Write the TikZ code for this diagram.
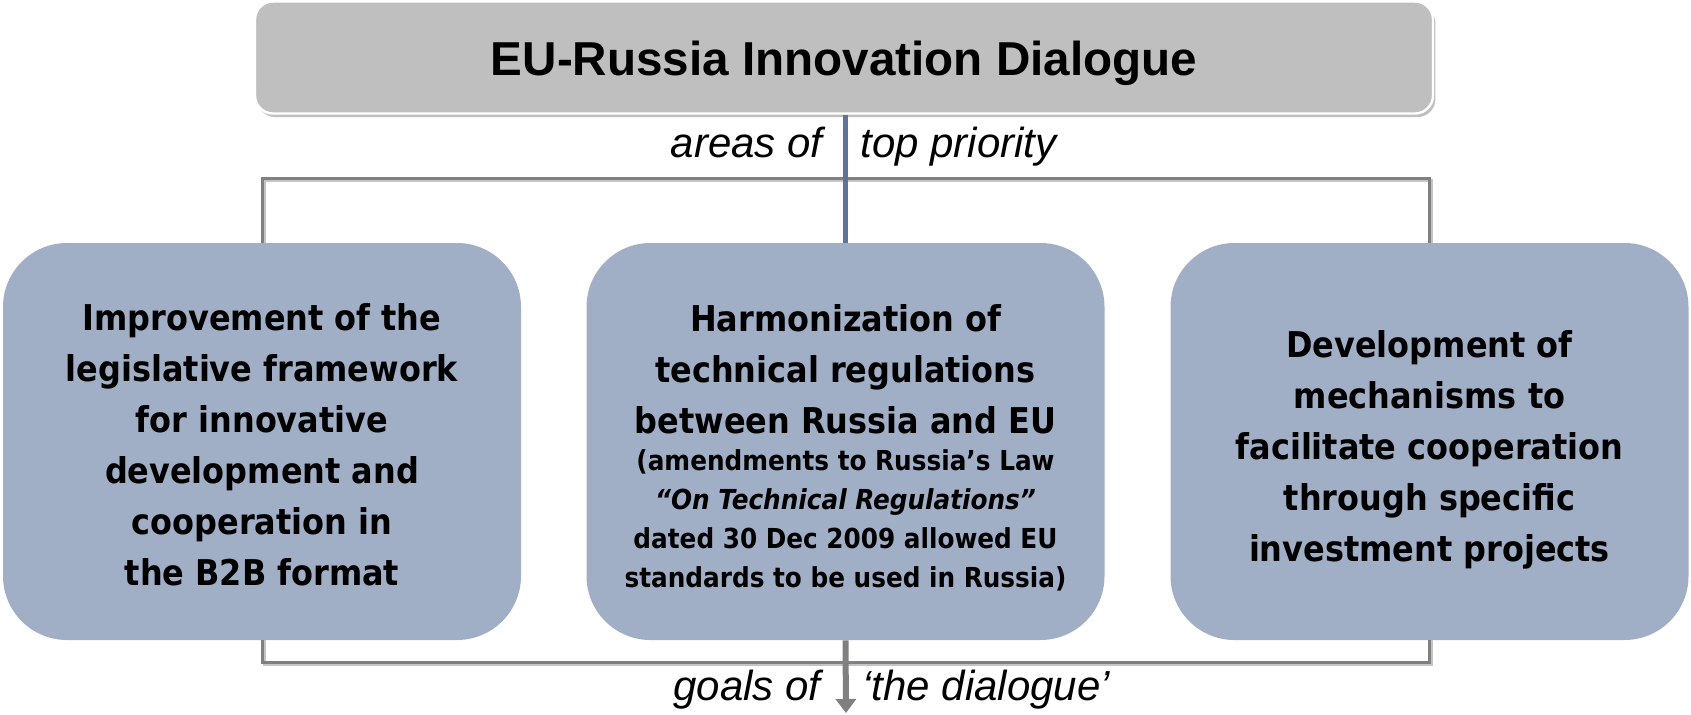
\documentclass[tikz,border=0pt]{standalone}
\usepackage{fontspec}
\setmainfont{Liberation Sans}
\newfontfamily\boxfont{DejaVu Sans Condensed}
\usetikzlibrary{arrows.meta,shadows}

\definecolor{boxblue}{RGB}{160,174,198}
\definecolor{titlegray}{RGB}{191,191,191}
\definecolor{bracketgray}{RGB}{128,128,128}
\definecolor{bracketshade}{RGB}{196,196,196}
\definecolor{linkblue}{RGB}{91,117,153}

\begin{document}
\begin{tikzpicture}[x=0.5pt,y=-0.5pt,
  titlebox/.style={fill=titlegray, draw=white, line width=1.2pt,
    rounded corners=9pt, minimum width=589pt, minimum height=56pt, inner sep=0pt,
    drop shadow={shadow xshift=1.2pt, shadow yshift=-1.8pt, opacity=0.25, fill=black}},
  titletext/.style={font=\bfseries\fontsize{23.8}{28}\selectfont, inner sep=0pt},
  areabox/.style={fill=boxblue, rounded corners=32pt, minimum width=259pt,
    minimum height=198.5pt, inner sep=0pt},
  areatext/.style={inner sep=0pt, align=center,
    font=\boxfont\bfseries\fontsize{17.75}{25.5}\selectfont},
  label/.style={font=\itshape\fontsize{21}{25}\selectfont, inner sep=0pt},
  bracket/.style={draw=bracketgray, line width=1.5pt},
  bracketshadow/.style={draw=bracketshade, line width=1.5pt},
  link/.style={draw=linkblue, line width=2.5pt},
  goal/.style={draw=bracketgray, line width=3pt,
    -{Triangle[width=10pt,length=7pt]}}
]
\useasboundingbox (0,0) rectangle (1691,714);

% title
\node[titlebox] (top) at (844,57.5) {};
\node[titletext, anchor=base] (ttl) at (844,75) {EU-Russia Innovation Dialogue};

% three areas
\node[areabox] (lb) at (262,441.5) {};
\node[areabox] (mb) at (845.5,441.5) {};
\node[areabox] (rb) at (1429.5,441.5) {};

\node[areatext] (lt) at (262,444.5) {Improvement of the\\legislative framework\\for innovative\\development and\\cooperation in\\the B2B format};
\node[areatext] (mt) at (845.5,447.5) {Harmonization of\\technical regulations\\between Russia and EU\\[-7pt]
  {\fontsize{13.75}{19.5}\selectfont (amendments to Russia’s Law}\\[-6pt]
  {\fontsize{13.75}{19.5}\selectfont\itshape “On Technical Regulations”}\\[-6pt]
  {\fontsize{13.75}{19.5}\selectfont dated 30 Dec 2009 allowed EU}\\[-6pt]
  {\fontsize{13.75}{19.5}\selectfont standards to be used in Russia)}};
\node[areatext] (rt) at (1429.5,449.5) {Development of\\mechanisms to\\facilitate cooperation\\through specific\\investment projects};

% bracket corner heights
\coordinate (bt) at (846,178);
\coordinate (bb) at (846,662);
\coordinate (bts) at (848,180);
\coordinate (bbs) at (848,664);

% bracket shadows
\draw[bracketshadow] ([xshift=1pt]lb.north) |- (bts) -| ([xshift=1pt]rb.north);
\draw[bracketshadow] ([xshift=1pt]lb.south) |- (bbs) -| ([xshift=1pt]rb.south);
% brackets
\draw[bracket] (lb.north) |- (bt) -| (rb.north);
\draw[bracket] (lb.south) |- (bb) -| (rb.south);

% link from title to the areas
\draw[link] (mb.north |- top.south) -- (mb.north);

% arrow towards the goals
\coordinate (gend) at (846,713);
\draw[goal] (mb.south) -- (gend);

% labels
\node[label, anchor=base east] (ar) at (823,157) {areas of};
\node[label, anchor=base west] (tp) at (860,157) {top priority};
\node[label, anchor=base east] (go) at (821,700) {goals of};
\node[label, anchor=base west] (dl) at (862,700) {‘the dialogue’};
\end{tikzpicture}
\end{document}
